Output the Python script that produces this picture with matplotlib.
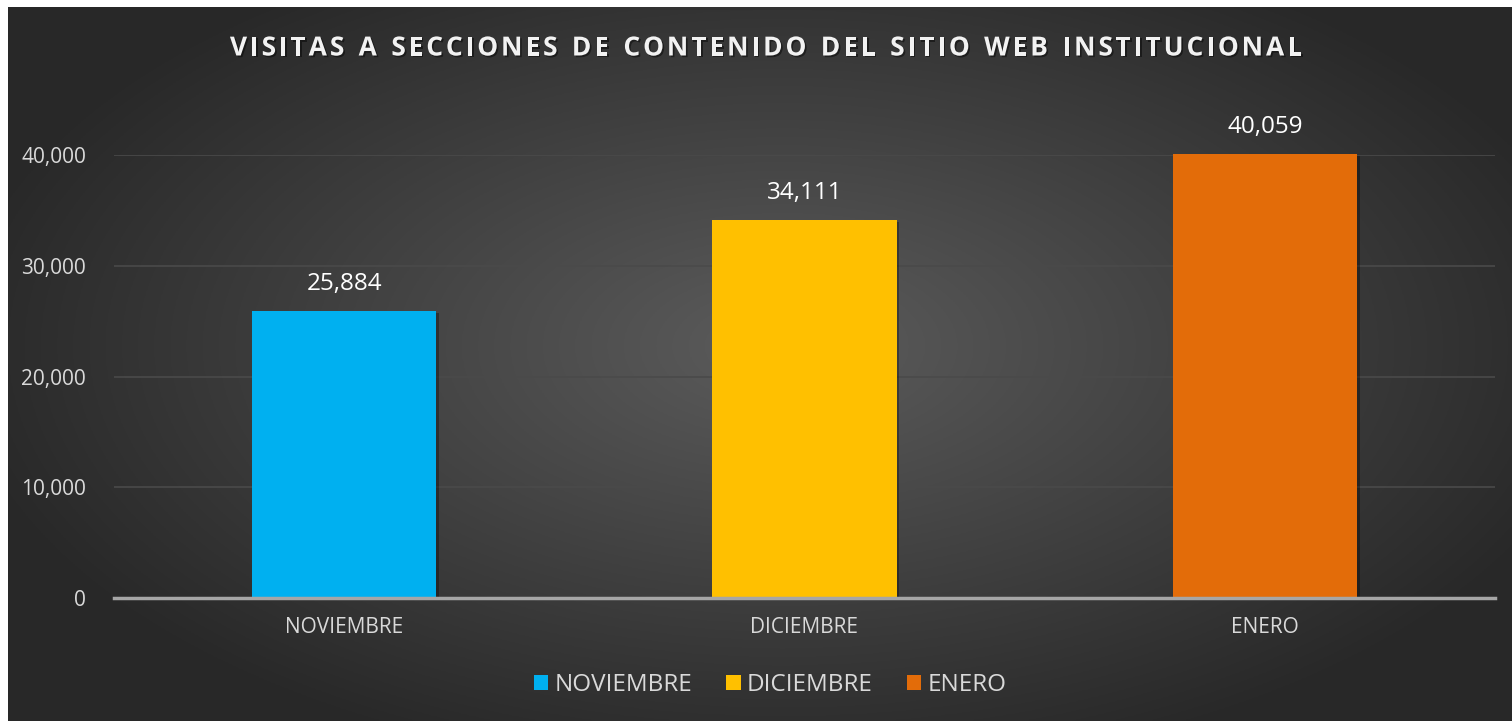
import numpy as np
import matplotlib.pyplot as plt
import matplotlib.patheffects as pe
from matplotlib.patches import Patch

meses = ['NOVIEMBRE', 'DICIEMBRE', 'ENERO']
visitas = [25884, 34111, 40059]
colores = ['#00b0f0', '#ffc000', '#e36c09']
yticks = [0, 10000, 20000, 30000, 40000]
titulo = 'VISITAS A SECCIONES DE CONTENIDO DEL SITIO WEB INSTITUCIONAL'

plt.rcParams['font.family'] = ['Open Sans', 'DejaVu Sans']

fig = plt.figure(figsize=(15.12, 7.21), dpi=100)
fig.patch.set_facecolor('white')

# fondo con degradado radial
bg = fig.add_axes([8 / 1512, 0, 1 - 8 / 1512, 1 - 7 / 721])
bg.set_axis_off()
xx, yy = np.meshgrid(np.linspace(-1, 1, 600), np.linspace(-1, 1, 300))
r = np.sqrt(((xx - 0.03) / 1.0) ** 2 + ((yy + 0.05) / 1.1) ** 2)
r = np.clip(r, 0, 1.1) / 1.1
shade = 0.36 - 0.20 * r
bg.imshow(np.dstack([shade, shade, shade]), extent=[0, 1, 0, 1], aspect='auto')
bg.set_xlim(0, 1)
bg.set_ylim(0, 1)

ax = fig.add_axes([114 / 1512, 1 - 598 / 721, (1495 - 114) / 1512, (598 - 155) / 721])
ax.set_facecolor('none')
x = np.arange(len(meses))
bars = ax.bar(x, visitas, width=0.4, color=colores, zorder=3, clip_on=False)
for b in bars:
    b.set_path_effects([pe.SimplePatchShadow(offset=(2, -1), shadow_rgbFace='black', alpha=0.3), pe.Normal()])
for xi, v in zip(x, visitas):
    ax.annotate(f'{v:,}', (xi, v), xytext=(0, 11), textcoords='offset points',
                ha='center', va='bottom', color='white', fontsize=17.5,
                annotation_clip=False)

ax.set_xlim(-0.5, 2.5)
ax.set_ylim(0, 40000)
ax.set_yticks(yticks)
ax.set_yticklabels([f'{t:,}' for t in yticks])
ax.set_xticks(x)
ax.set_xticklabels(meses)
ax.tick_params(axis='both', length=0, colors='#d9d9d9', labelsize=15)
ax.tick_params(axis='y', pad=20)
ax.tick_params(axis='x', pad=14)
ax.grid(axis='y', color='#4a4a4a', linewidth=1.2, zorder=0)
for s in ['top', 'right', 'left']:
    ax.spines[s].set_visible(False)
ax.spines['bottom'].set_color('#a6a6a6')
ax.spines['bottom'].set_linewidth(2.5)
ax.spines['bottom'].set_zorder(4)

# titulo con espaciado entre letras
fig.canvas.draw()
renderer = fig.canvas.get_renderer()
tprops = dict(fontsize=19, fontweight='bold', color='#f2f2f2')
spacing = 2.9
widths = []
for ch in titulo:
    t = fig.text(0, 0, ch if ch != ' ' else 'n', **tprops)
    w = t.get_window_extent(renderer).width
    widths.append(w * (0.5 if ch == ' ' else 1.0))
    t.remove()
total = sum(widths) + spacing * (len(titulo) - 1)
xpos = 766 - total / 2
for ch, w in zip(titulo, widths):
    if ch != ' ':
        fig.text(xpos / 1512, 1 - 48 / 721, ch, ha='left', va='center', **tprops,
                 path_effects=[pe.withSimplePatchShadow(offset=(1.2, -1.2), shadow_rgbFace='black', alpha=0.45)])
    xpos += w + spacing

handles = [Patch(facecolor=c, label=m) for m, c in zip(meses, colores)]
fig.legend(handles=handles, loc='center', bbox_to_anchor=(770 / 1512, 1 - 685 / 721), ncol=3,
           frameon=False, fontsize=17.5, labelcolor='#d9d9d9', handlelength=0.6, handleheight=0.6,
           handletextpad=0.25, columnspacing=1.4)

fig.savefig('out.png', dpi=100, facecolor=fig.get_facecolor())
